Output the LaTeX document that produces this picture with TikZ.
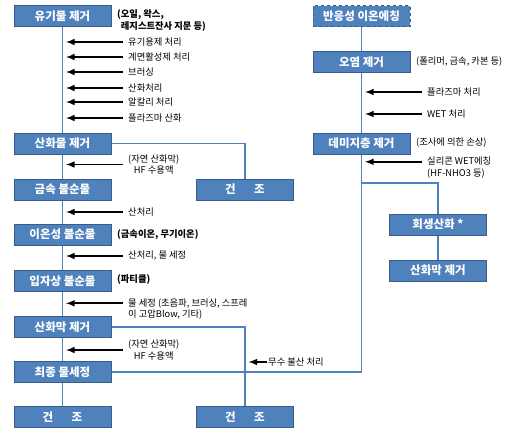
\documentclass[tikz,border=0pt]{standalone}
\usepackage{fontspec}
\setmainfont{Noto Sans CJK KR}
\usepackage{tikz}
\usetikzlibrary{shapes,arrows}
\usetikzlibrary{positioning}
\definecolor{boxblue}{HTML}{4F81BD}
\definecolor{boxline}{HTML}{385D8A}

\begin{document}
\begin{tikzpicture}[>=latex, x=1pt, y=-1pt]

    \tikzstyle{procbox}=[draw=boxline, fill=boxblue, line width=1pt, text=white, font=\fontsize{11.5}{13}\selectfont\bfseries, minimum width=97pt, minimum height=21pt, inner sep=0pt];
    \tikzstyle{flow}=[draw=boxblue, line width=1.8pt];
    \tikzstyle{feed}=[->, line width=1.9pt, shorten <=3pt, shorten >=3.5pt];
    \tikzstyle{note}=[font=\fontsize{9.3}{11.5}\selectfont, anchor=west, inner sep=2pt];
    \tikzstyle{remark}=[note, font=\fontsize{9.3}{11.5}\selectfont\bfseries];

    \useasboundingbox (0,0) rectangle (516,436);

    \node [procbox](org) at (62.5, 16.5){유기물 제거};
    \node [procbox](oxd) at (62.5, 143.5){산화물 제거};
    \node [procbox](met) at (62.5, 189.5){금속 불순물};
    \node [procbox](ion) at (62.5, 234.5){이온성 불순물};
    \node [procbox](par) at (62.5, 281){입자상 불순물};
    \node [procbox](film) at (62.5, 327){산화막 제거};
    \node [procbox](rinse) at (62.5, 372){최종 물세정};
    \node [procbox](dryA) at (62.5, 417){건\hspace{1.6em}조};
    \node [procbox](dryB) at (245, 189.5){건\hspace{1.6em}조};
    \node [procbox](dryC) at (245, 417){건\hspace{1.6em}조};
    \node [procbox, dashed](rie) at (361.5, 16.5){반응성 이온에칭};
    \node [procbox](cont) at (361.5, 62){오염 제거};
    \node [procbox](dmg) at (361.5, 143.5){데미지층 제거};
    \node [procbox](sac) at (438, 224.5){회생산화 *};
    \node [procbox](sacfilm) at (438, 270.5){산화막 제거};
    \coordinate (fork) at (361.5, 183);

    \draw [flow] (org) to (oxd);
    \draw [flow] (oxd) to (met);
    \draw [flow] (met) to (ion);
    \draw [flow] (ion) to (par);
    \draw [flow] (par) to (film);
    \draw [flow] (film) to (rinse);
    \draw [flow] (rinse) to (dryA);
    \draw [flow] (oxd) -| (dryB);
    \draw [flow] (film) -| (dryC);
    \draw [flow] (rie) to (cont);
    \draw [flow] (cont) to (dmg);
    \draw [flow] (rinse) -| (dmg);
    \draw [flow] (fork) -| (sac);
    \draw [flow] (sac) to (sacfilm);

    \node [remark, align=left](orgnote) at (115, 20.5){(오일, 왁스,\\\hspace{0.4em}레지스트잔사 지문 등)};
    \node [remark](ionnote) at (115, 235){(금속이온, 무기이온)};
    \node [remark](parnote) at (115, 280){(파티클)};
    \node [note](contnote) at (414, 62){(폴리머, 금속, 카본 등)};
    \node [note](dmgnote) at (414, 143){(조사에 의한 손상)};

    \node [note](solv) at (126, 42){유기용제 처리};
    \node [note](surf) at (126, 57){계면활성제 처리};
    \node [note](brush) at (126, 72){브러싱};
    \node [note](oxi) at (126, 88){산화처리};
    \node [note](alk) at (126, 102){알칼리 처리};
    \node [note](plox) at (126, 118){플라즈마 산화};
    \node [note, align=center](hfA) at (126, 164.5){(자연 산화막)\\HF 수용액};
    \node [note](acid) at (126, 212){산처리};
    \node [note](acidw) at (126, 256){산처리, 물 세정};
    \node [note, align=left](water) at (126, 309){물 세정 (초음파, 브러싱, 스프레\\이 고압Blow, 기타)};
    \node [note, align=center](hfB) at (126, 350){(자연 산화막)\\HF 수용액};
    \node [note, inner sep=1pt](ahf) at (267, 362){무수 불산 처리};
    \node [note](plasma) at (425, 92){플라즈마 처리};
    \node [note](wet) at (425, 114){WET 처리};
    \node [note, align=left](siwet) at (425, 167.5){실리콘 WET에칭\\(HF-NHO3 등)};

    \draw [feed] (solv.west) to (solv.west -| org);
    \draw [feed] (surf.west) to (surf.west -| org);
    \draw [feed] (brush.west) to (brush.west -| org);
    \draw [feed] (oxi.west) to (oxi.west -| org);
    \draw [feed] (alk.west) to (alk.west -| org);
    \draw [feed] (plox.west) to (plox.west -| org);
    \draw [feed] (hfA.west) to (hfA.west -| org);
    \draw [feed] (acid.west) to (acid.west -| org);
    \draw [feed] (acidw.west) to (acidw.west -| org);
    \draw [feed] ([yshift=5.7pt]water.west) to ([yshift=5.7pt]water.west -| org);
    \draw [feed] (hfB.west) to (hfB.west -| org);
    \draw [feed, shorten <=0pt] (ahf.west) to (ahf.west -| dryC);
    \draw [feed] (plasma.west) to (plasma.west -| rie);
    \draw [feed] (wet.west) to (wet.west -| rie);
    \draw [feed] ([yshift=5.7pt]siwet.west) to ([yshift=5.7pt]siwet.west -| rie);

\end{tikzpicture}
\end{document}
